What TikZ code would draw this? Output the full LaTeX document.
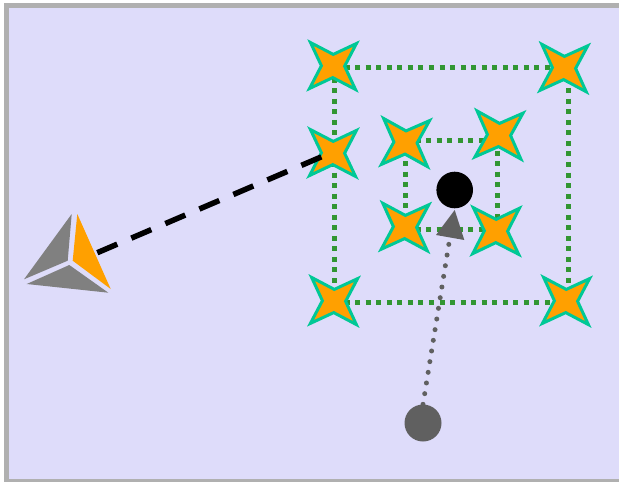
\documentclass[tikz,border=0pt]{standalone}
\usetikzlibrary{shapes.geometric}
\definecolor{panel}{RGB}{222,220,250}
\definecolor{frameg}{RGB}{176,176,176}
\definecolor{dotgreen}{RGB}{50,150,50}
\definecolor{starline}{RGB}{0,200,150}
\definecolor{starfill}{RGB}{255,160,0}
\definecolor{darkg}{RGB}{96,96,96}
\definecolor{faceg}{RGB}{128,128,128}
\tikzset{
  xstar/.style={star, star points=4, star point ratio=2.8, minimum size=65pt, inner sep=0pt,
    draw=starline, fill=starfill, line width=3pt, miter limit=10, shape border rotate=45-#1},
  greenlink/.style={draw=dotgreen, line width=5pt, dash pattern=on 5pt off 5.55pt},
  ball/.style={circle, inner sep=0pt, minimum size=#1, draw=none},
}
\begin{document}
\begin{tikzpicture}[x=1pt,y=-1pt]
\clip (0,0) rectangle (619,482);
\fill[white] (0,0) rectangle (619,482);
\draw[frameg, fill=panel, line width=5pt] (6.5,5.5) rectangle (640,481.5);
% green squares
\coordinate (a1) at (334,67); \coordinate (a2) at (568,67);
\coordinate (a3) at (568,302); \coordinate (a4) at (334,302);
\coordinate (b1) at (405,140); \coordinate (b2) at (497,140);
\coordinate (b3) at (497,229); \coordinate (b4) at (405,229);
\draw[greenlink] (a1) -- (a2);
\draw[greenlink] (a2) -- (a3);
\draw[greenlink] (a4) -- (a3);
\draw[greenlink] (a1) -- (a4);
\draw[greenlink] (b1) -- (b2);
\draw[greenlink] (b2) -- (b3);
\draw[greenlink] (b4) -- (b3);
\draw[greenlink] (b1) -- (b4);
% stars
\node[xstar=1.2] (s1) at (333,66) {};
\node[xstar=1.1] (s2) at (333,153) {};
\node[xstar=1.5] (s3) at (334,301) {};
\node[xstar=1.9] (s4) at (564,68) {};
\node[xstar=1.5] (s5) at (566,301) {};
\node[xstar=2.7] (s6) at (405.5,142.5) {};
\node[xstar=2.7] (s7) at (499,135) {};
\node[xstar=1.9] (s8) at (405,227) {};
\node[xstar=0.8] (s9) at (496,231) {};
% camera
\coordinate (cam) at (97.3,252.7);
\fill[faceg] (71.7,214) -- (67.7,260.7) -- (24,279.3) -- cycle;
\fill[starfill] (77.3,214) -- (72.7,260.7) -- (110.7,289) -- cycle;
\fill[faceg] (69.3,265) -- (108.3,292.7) -- (26.7,284) -- cycle;
\coordinate (dashend) at (321.7,156.7);
\draw[black, line width=5.5pt, dash pattern=on 21.7pt off 15.3pt] (cam) -- (dashend);
% balls
\node[ball=36.6pt, fill=black] (target) at (454.7,190) {};
\node[ball=37pt, fill=darkg] (source) at (423,423) {};
\coordinate (headbase) at (450.3,235);
\draw[darkg, line width=5pt, line cap=round, dash pattern=on 0pt off 10.8pt] (source.north) -- (headbase);
\fill[darkg] (454.7,210) -- (436,235) -- (464.3,240) -- cycle;
\end{tikzpicture}
\end{document}
